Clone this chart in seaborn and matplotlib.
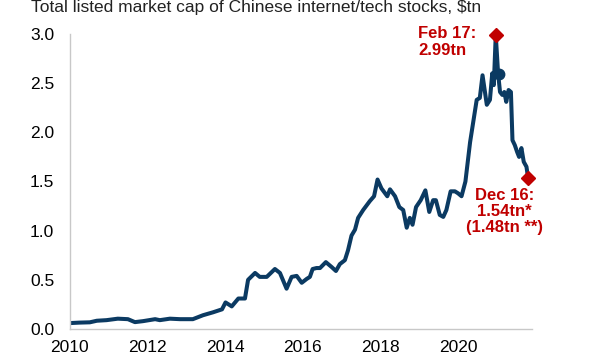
import numpy as np
import pandas as pd
import matplotlib
matplotlib.use("Agg")
import matplotlib.pyplot as plt
import seaborn as sns

# values (fractional year, $tn)
years = [2010.00, 2010.25, 2010.52, 2010.70, 2010.95, 2011.24, 2011.50, 2011.68, 2011.89,
         2012.20, 2012.32, 2012.58, 2012.84, 2013.17, 2013.43, 2013.69, 2013.92, 2014.01,
         2014.17, 2014.34, 2014.51, 2014.59, 2014.77, 2014.89, 2015.07, 2015.28, 2015.41,
         2015.58, 2015.71, 2015.84, 2015.97, 2016.10, 2016.18, 2016.25, 2016.35, 2016.44,
         2016.59, 2016.74, 2016.85, 2016.95, 2017.08, 2017.16, 2017.25, 2017.34, 2017.42,
         2017.55, 2017.72, 2017.83, 2017.92, 2018.02, 2018.17, 2018.24, 2018.37, 2018.48,
         2018.58, 2018.67, 2018.75, 2018.82, 2018.91, 2019.03, 2019.15, 2019.25, 2019.35,
         2019.42, 2019.52, 2019.61, 2019.69, 2019.80, 2019.91, 2019.99, 2020.08, 2020.18,
         2020.30, 2020.47, 2020.55, 2020.62, 2020.73, 2020.81, 2020.87, 2020.91, 2020.96,
         2021.02, 2021.07, 2021.13, 2021.18, 2021.23, 2021.29, 2021.35, 2021.39, 2021.45,
         2021.51, 2021.56, 2021.62, 2021.68, 2021.75, 2021.79]
mcap = [0.06, 0.065, 0.068, 0.084, 0.09, 0.105, 0.10, 0.07, 0.08,
        0.10, 0.09, 0.105, 0.10, 0.10, 0.14, 0.17, 0.20, 0.27,
        0.23, 0.31, 0.31, 0.50, 0.57, 0.53, 0.53, 0.61, 0.57,
        0.41, 0.53, 0.54, 0.47, 0.51, 0.53, 0.61, 0.62, 0.62,
        0.68, 0.63, 0.59, 0.66, 0.70, 0.80, 0.95, 1.01, 1.13,
        1.21, 1.30, 1.35, 1.52, 1.43, 1.35, 1.42, 1.35, 1.24,
        1.21, 1.03, 1.13, 1.06, 1.24, 1.31, 1.41, 1.19, 1.31,
        1.31, 1.16, 1.14, 1.21, 1.40, 1.40, 1.38, 1.35, 1.50,
        1.90, 2.33, 2.35, 2.58, 2.28, 2.33, 2.60, 2.48, 2.99,
        2.60, 2.41, 2.38, 2.41, 2.31, 2.43, 2.41, 1.92, 1.87,
        1.80, 1.75, 1.84, 1.70, 1.65, 1.54]

peak_x, peak_y = 2020.96, 2.99
end_x, end_y = 2021.79, 1.54
dot_x, dot_y = 2021.04, 2.59

x_ticks = [2010, 2012, 2014, 2016, 2018, 2020]
y_ticks = [0.0, 0.5, 1.0, 1.5, 2.0, 2.5, 3.0]

navy = "#0B3A62"
red = "#C00000"

df = pd.DataFrame({"year": years, "mcap": mcap})

sns.set_style("white")
plt.rcParams["font.family"] = ["Liberation Sans", "DejaVu Sans"]

fig = plt.figure(figsize=(5.99, 3.6), dpi=100)
ax = fig.add_axes([0.1162, 0.0861, 0.7718, 0.8195])

sns.lineplot(data=df, x="year", y="mcap", ax=ax, color=navy, linewidth=2.9)
ax.plot([dot_x], [dot_y], "o", color=navy, markersize=7.5, clip_on=False)
ax.plot([peak_x, end_x], [peak_y, end_y], "D", color=red, markersize=7.5,
        clip_on=False, zorder=5)

ax.text(2018.96, 3.08, "Feb 17:\n2.99tn", color=red, fontsize=12, fontweight="bold",
        ha="left", va="top", linespacing=1.15, clip_on=False)
ax.text(2021.19, 1.43, "Dec 16:\n1.54tn*\n(1.48tn **)", color=red, fontsize=12,
        fontweight="bold", ha="center", va="top", linespacing=1.05, clip_on=False)

ax.set_xlim(2010, 2021.89)
ax.set_ylim(0, 3.0)
ax.set_xticks(x_ticks)
ax.set_xticklabels([str(t) for t in x_ticks])
ax.set_yticks(y_ticks)
ax.set_yticklabels([f"{t:.1f}" for t in y_ticks])
ax.set_xlabel("")
ax.set_ylabel("")

for s in ["top", "right"]:
    ax.spines[s].set_visible(False)
for s in ["left", "bottom"]:
    ax.spines[s].set_color("#C8C8C8")
    ax.spines[s].set_linewidth(1.0)
ax.tick_params(axis="both", colors="#C8C8C8", length=5, width=1.0, labelsize=12.5,
               labelcolor="black", direction="out")
ax.tick_params(axis="y", pad=6)
ax.tick_params(axis="x", pad=3)

fig.text(0.052, 1 - 12 / 360, "Total listed market cap of Chinese internet/tech stocks, $tn",
         fontsize=12.5, ha="left", va="baseline", color="#222222")

fig.savefig("out.png", dpi=100)
